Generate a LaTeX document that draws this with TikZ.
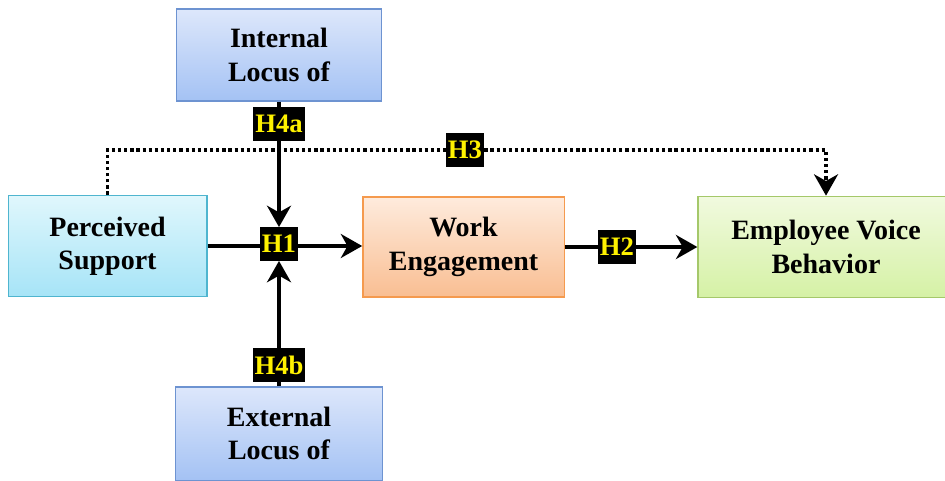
\documentclass[tikz,border=0pt]{standalone}
\usepackage{fontspec}
\setmainfont{Liberation Serif}
\usetikzlibrary{arrows.meta,positioning}
\definecolor{locTop}{HTML}{DDE7FB}
\definecolor{locBot}{HTML}{A4C2F4}
\definecolor{locLine}{HTML}{6D93D1}
\definecolor{supTop}{HTML}{E0F7FC}
\definecolor{supBot}{HTML}{A6E4F7}
\definecolor{supLine}{HTML}{4FB5CF}
\definecolor{engTop}{HTML}{FEEBDD}
\definecolor{engBot}{HTML}{F9BE92}
\definecolor{engLine}{HTML}{F59A4E}
\definecolor{voiTop}{HTML}{F1FADF}
\definecolor{voiBot}{HTML}{D5F1A5}
\definecolor{voiLine}{HTML}{A5C86A}

\begin{document}
\begin{tikzpicture}
      [x=0.75pt, y=-0.75pt,
      block/.style={rectangle, line width=1pt, align=center,
      font=\fontsize{21}{25}\selectfont\bfseries},
      hyp/.style={fill=black, text=yellow, inner sep=1.5pt,
      minimum height=25pt, font=\fontsize{20}{20}\selectfont\bfseries},
      line/.style={draw, line width=2.6pt},
      tip/.style={-{Stealth[length=16pt,width=18pt,inset=5pt]}},
      dots/.style={dash pattern=on 2.4pt off 2.2pt}]

      \useasboundingbox (0,0) rectangle (945,481);

      \node [block, draw=locLine, top color=locTop, bottom color=locBot,
        minimum width=153.75pt, minimum height=69pt] (intloc) at (279,55) {Internal\\Locus of};
      \node [block, draw=supLine, top color=supTop, bottom color=supBot,
        minimum width=149pt, minimum height=76pt] (support) at (107.5,246) {Perceived\\Support};
      \node [block, draw=engLine, top color=engTop, bottom color=engBot,
        minimum width=151pt, minimum height=75pt] (engage) at (463.5,247) {Work\\Engagement};
      \node [block, draw=voiLine, top color=voiTop, bottom color=voiBot,
        minimum width=192pt, minimum height=76pt] (voice) at (826,247) {Employee Voice\\Behavior};
      \node [block, draw=locLine, top color=locTop, bottom color=locBot,
        minimum width=155pt, minimum height=70pt] (extloc) at (279,433.5) {External\\Locus of};

      \node [hyp] (h1)  at (279,244) {H1};
      \node [hyp] (h2)  at (617,247) {H2};
      \node [hyp] (h3)  at (465,150) {H3};
      \node [hyp] (h4a) at (279,124) {H4a};
      \node [hyp] (h4b) at (279,365) {H4b};

      \begin{scope}[every path/.style=line]
        \path (support.east) -- (support.east -| h1.west);
        \path [tip] (support.east -| h1.east) -- (support.east -| engage.west);
        \path (engage) -- (h2);
        \path [tip] (h2) -- (voice);
        \path (intloc) -- (h4a);
        \path [tip] (h4a) -- (h1);
        \path (extloc) -- (h4b);
        \path [tip] (h4b) -- (h1);
        \path [dots] (support.north) |- (h3);
        \path [dots, tip] (h3) -| (voice.north);
      \end{scope}

\end{tikzpicture}
\end{document}
